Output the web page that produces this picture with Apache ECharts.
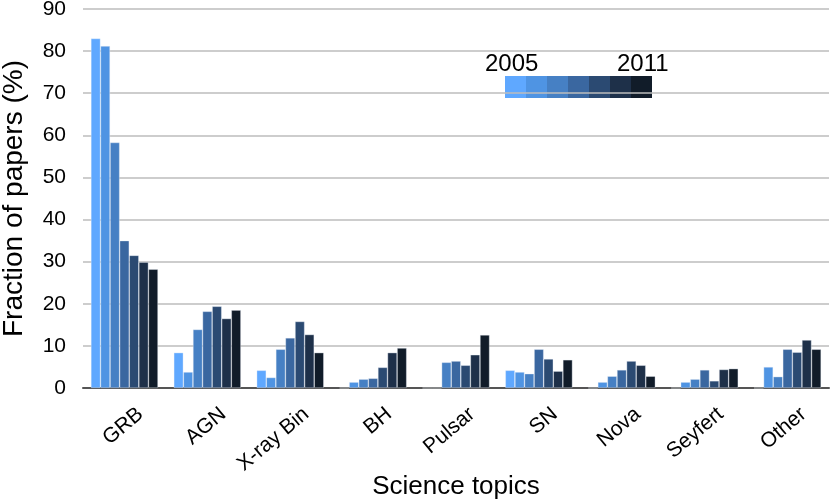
<!DOCTYPE html>
<html><head><meta charset="utf-8">
<script src="https://cdn.jsdelivr.net/npm/echarts@6/dist/echarts.min.js"></script>
<style>html,body{margin:0;padding:0;background:#fff}#c{width:831px;height:501px}</style>
</head><body><div id="c"></div>
<script>
const categories = ['GRB','AGN','X-ray Bin','BH','Pulsar','SN','Nova','Seyfert','Other'];
const years = ['2005','2006','2007','2008','2009','2010','2011'];
const yTicks = [0,10,20,30,40,50,60,70,80,90];
const v2005 = [83.0, 8.4, 4.2, 0, 0, 4.2, 0, 0, 0];
const v2006 = [81.2, 3.8, 2.5, 1.4, 0, 3.8, 1.4, 1.4, 5.0];
const v2007 = [58.3, 13.9, 9.2, 2.1, 6.1, 3.4, 2.8, 2.1, 2.7];
const v2008 = [35.0, 18.2, 11.9, 2.3, 6.4, 9.2, 4.3, 4.3, 9.2];
const v2009 = [31.5, 19.4, 15.8, 4.9, 5.4, 6.9, 6.4, 1.7, 8.5];
const v2010 = [29.9, 16.5, 12.7, 8.4, 7.9, 4.0, 5.4, 4.4, 11.4];
const v2011 = [28.2, 18.5, 8.4, 9.5, 12.6, 6.7, 2.8, 4.6, 9.2];
const seriesValues = [v2005, v2006, v2007, v2008, v2009, v2010, v2011];
const colors = ['#5fa8ff','#4f94e3','#4680c4','#3a67a0','#2b4a72','#1e3049','#111c29'];

const FONT = 'Liberation Sans, Arial, Helvetica, sans-serif';
const chart = echarts.init(document.getElementById('c'), null, {renderer:'canvas'});

const legendGraphics = colors.map((c, i) => ({
  type: 'rect', left: 505 + i * 21, top: 76,
  shape: {width: 21, height: 22}, style: {fill: c}
}));
legendGraphics.push(
  {type:'text', left: 485, top: 52, style:{text: years[0], font: '24px ' + FONT, fill:'#000'}},
  {type:'text', left: 617, top: 52, style:{text: years[years.length-1], font: '24px ' + FONT, fill:'#000'}}
);

chart.setOption({
  animation: false,
  color: colors,
  grid: {left: 83, right: 2, top: 9, bottom: 113, containLabel: false, outerBoundsMode: 'none'},
  graphic: legendGraphics,
  xAxis: {
    type: 'category', data: categories,
    name: 'Science topics', nameLocation: 'middle', nameGap: 86, nameMoveOverlap: false,
    nameTextStyle: {fontSize: 26, fontFamily: FONT, color:'#000'},
    axisLine: {lineStyle:{color:'#555', width: 2}},
    axisTick: {show:false},
    axisLabel: {rotate: 40, fontSize: 21, fontFamily: FONT, color:'#000', margin: 37,
      padding: [0, -21, 0, 0], interval: 0, hideOverlap: false}
  },
  yAxis: {
    type: 'value', min: 0, max: 90, interval: 10,
    name: 'Fraction of papers (%)', nameLocation: 'middle', nameGap: 55, nameMoveOverlap: false,
    nameTextStyle: {fontSize: 28, fontFamily: FONT, color:'#000'},
    axisLine: {show:false}, axisTick: {show:false},
    axisLabel: {fontSize: 21, fontFamily: FONT, color:'#000', margin: 17,
      formatter: v => yTicks.includes(v) ? String(v) : ''},
    splitLine: {lineStyle:{color:'#bdbdbd', width: 1.5}}
  },
  series: seriesValues.map((vals, i) => ({
    name: years[i], type: 'bar', data: vals,
    barGap: '0%', barCategoryGap: '19%',
    itemStyle: {color: colors[i], borderColor: 'rgba(235,240,250,0.6)', borderWidth: 0.6}
  }))
});
</script></body></html>
